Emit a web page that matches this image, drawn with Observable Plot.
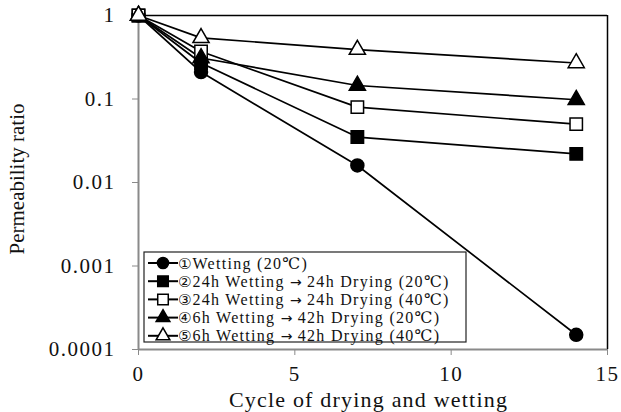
<!DOCTYPE html>
<html>
<head>
<meta charset="utf-8">
<script src="https://cdn.jsdelivr.net/npm/d3@7"></script>
<script src="https://cdn.jsdelivr.net/npm/@observablehq/plot@0.6"></script>
<style>
  html, body { margin: 0; padding: 0; background: #fff; }
  #chart svg { font-family: 'Liberation Serif', 'Times New Roman', serif; overflow: visible; }
  g[aria-label="y-axis tick label"] text, g[aria-label="x-axis tick label"] text { font-size: 21px; letter-spacing: 1.5px; fill: #111; }
  .lbl { font-family: 'Liberation Serif', 'Times New Roman', serif; fill: #111; }
  .legend text { font-family: 'Liberation Serif', 'DejaVu Serif', serif; text-anchor: start; fill: #111; }
  .legend .num, .legend .arr { font-family: 'DejaVu Sans', 'DejaVu Serif', sans-serif; }
</style>
</head>
<body>
<div id="chart"></div>
<script>
const cycles = [0, 2, 7, 14];
const seriesNums = ["\u2460", "\u2461", "\u2462", "\u2463", "\u2464"];
const seriesNames = [
  "Wetting (20\u2103)",
  "24h Wetting \u2192 24h Drying (20\u2103)",
  "24h Wetting \u2192 24h Drying (40\u2103)",
  "6h Wetting \u2192 42h Drying (20\u2103)",
  "6h Wetting \u2192 42h Drying (40\u2103)"
];
const wetting20 = [1, 0.21, 0.016, 0.00015];
const wd24_20 = [1, 0.27, 0.035, 0.022];
const wd24_40 = [1, 0.37, 0.08, 0.05];
const wd6_20 = [1, 0.31, 0.145, 0.098];
const wd6_40 = [1, 0.54, 0.39, 0.27];
const yTicks = [1, 0.1, 0.01, 0.001, 0.0001];
const yTickLabels = ["1", "0.1", "0.01", "0.001", "0.0001"];
const xTicks = [0, 5, 10, 15];
const xLabel = "Cycle of drying and wetting";
const yLabel = "Permeability ratio";

const seriesValues = [wetting20, wd24_20, wd24_40, wd6_20, wd6_40];
const symbols = ["circle", "square", "square", "triangle", "triangle"];
const fills = ["black", "black", "white", "black", "white"];
const radii = [6.5, 7, 7, 6, 6];

const data = seriesValues.flatMap((vals, s) =>
  vals.map((v, i) => ({series: seriesNames[s], s, cycle: cycles[i], value: v}))
);

const W = 621, H = 412;
const marks = [
  Plot.ruleY([1], {stroke: "black", strokeWidth: 1.5}),
  Plot.ruleX([15], {stroke: "black", strokeWidth: 1.5}),
  Plot.ruleX([0], {stroke: "#8a8a8a", strokeWidth: 2}),
  Plot.ruleY([0.0001], {stroke: "#8a8a8a", strokeWidth: 2}),
  Plot.axisY({ticks: yTicks, tickFormat: (d) => yTickLabels[yTicks.indexOf(d)], tickSize: 6, tickPadding: 17, stroke: "#8a8a8a", label: null}),
  Plot.axisX({ticks: xTicks, tickFormat: d3.format("d"), tickSize: 6, tickPadding: 11, stroke: "#8a8a8a", label: null}),
  Plot.line(data, {x: "cycle", y: "value", z: "series", stroke: "black", strokeWidth: 1.7})
];
seriesValues.forEach((vals, s) => {
  marks.push(Plot.dot(data.filter(d => d.s === s), {
    x: "cycle", y: "value", symbol: () => symbols[s], r: radii[s],
    fill: fills[s], stroke: "black", strokeWidth: 1.5
  }));
});

const chart = Plot.plot({
  width: W, height: H,
  marginLeft: 138, marginRight: 14, marginTop: 15, marginBottom: 63,
  style: {fontFamily: "'Liberation Serif', 'Times New Roman', serif", background: "white", overflow: "visible"},
  x: {domain: [0, 15], label: null},
  y: {type: "log", domain: [0.0001, 1], label: null},
  symbol: {type: "identity"},
  marks
});
document.getElementById("chart").appendChild(chart);

const svg = d3.select(chart);
const xs = chart.scale("x"), ys = chart.scale("y");
const xMid = (xs.apply(0) + xs.apply(15)) / 2;
const yMid = (ys.apply(1) + ys.apply(0.0001)) / 2;

// Axis titles
svg.append("text").attr("class", "lbl").attr("x", xMid - 4).attr("y", 407)
  .attr("text-anchor", "middle").attr("font-size", 22).attr("letter-spacing", 1.2).text(xLabel);
svg.append("text").attr("class", "lbl").attr("transform", `translate(24,${yMid - 3}) rotate(-90)`)
  .attr("text-anchor", "middle").attr("font-size", 21).text(yLabel);

// Legend box inside the plot area
const lg = svg.append("g").attr("class", "legend");
const lx = 144, ly = 252, lw = 322, lh = 90;
lg.append("rect").attr("x", lx).attr("y", ly).attr("width", lw).attr("height", lh)
  .attr("fill", "white").attr("stroke", "#222").attr("stroke-width", 1.2);
const rowY0 = 263, rowDy = 18.2;
seriesNames.forEach((name, s) => {
  const cy = rowY0 + s * rowDy;
  lg.append("line").attr("x1", 148).attr("x2", 178).attr("y1", cy).attr("y2", cy)
    .attr("stroke", "black").attr("stroke-width", 2);
  const symType = symbols[s] === "circle" ? d3.symbolCircle : symbols[s] === "square" ? d3.symbolSquare : d3.symbolTriangle;
  const r = radii[s] * 0.85;
  lg.append("path").attr("d", d3.symbol(symType, Math.PI * r * r)())
    .attr("transform", `translate(163,${cy})`)
    .attr("fill", fills[s]).attr("stroke", "black").attr("stroke-width", 1.5);
  const t = lg.append("text").attr("x", 178).attr("y", cy).attr("dy", "0.35em")
    .attr("text-anchor", "start").attr("font-size", 16);
  t.append("tspan").attr("class", "num").attr("font-size", 15).text(seriesNums[s]);
  const parts = name.split("\u2192");
  t.append("tspan").attr("dx", 1).attr("letter-spacing", 1.3).text(parts[0]);
  if (parts.length > 1) {
    t.append("tspan").attr("class", "arr").attr("font-size", 14).text("\u2192");
    t.append("tspan").attr("letter-spacing", 1.3).text(parts[1]);
  }
});
</script>
</body>
</html>
